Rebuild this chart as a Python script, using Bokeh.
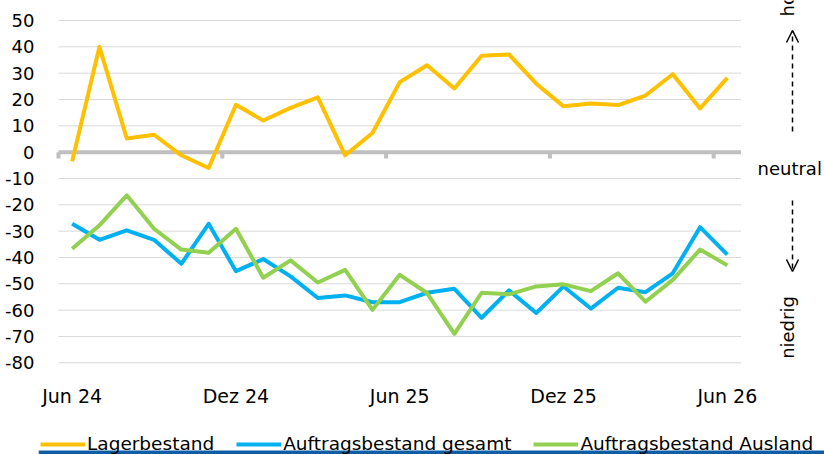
import math
from bokeh.plotting import figure
from bokeh.models import (FixedTicker, Range1d, Arrow, OpenHead, BoxAnnotation, Legend)
from bokeh.core.properties import value
from bokeh.embed import file_html
from bokeh.resources import INLINE

# ---- data ----
months = ["Jun 24", "Jul 24", "Aug 24", "Sep 24", "Okt 24", "Nov 24", "Dez 24",
          "Jan 25", "Feb 25", "Mär 25", "Apr 25", "Mai 25", "Jun 25", "Jul 25",
          "Aug 25", "Sep 25", "Okt 25", "Nov 25", "Dez 25", "Jan 26", "Feb 26",
          "Mär 26", "Apr 26", "Mai 26", "Jun 26"]
lagerbestand = [-3.5, 40, 5.2, 6.6, -1.2, -6, 18, 12, 16.8, 20.8, -1.2, 7.3, 26.6,
                33, 24.2, 36.6, 37.1, 26, 17.4, 18.5, 17.9, 21.5, 29.6, 16.6, 28.2]
auftrag_gesamt = [-27.2, -33.3, -29.7, -33.3, -42.4, -27.2, -45.2, -40.6, -47.2,
                  -55.4, -54.4, -57, -57, -53.4, -51.9, -62.9, -52.5, -61.1, -51,
                  -59.4, -51.5, -53.2, -46, -28.5, -38.9]
auftrag_ausland = [-36.7, -27.8, -16.4, -29.1, -37, -38.2, -29.1, -47.7, -41.1,
                   -49.5, -44.7, -59.9, -46.6, -53.5, -69, -53.4, -54, -51, -50.2,
                   -52.8, -46, -56.8, -48.5, -37, -43]
y_ticks = [-80, -70, -60, -50, -40, -30, -20, -10, 0, 10, 20, 30, 40, 50]
x_tick_labels = ["Jun 24", "Dez 24", "Jun 25", "Dez 25", "Jun 26"]
series_names = ["Lagerbestand", "Auftragsbestand gesamt", "Auftragsbestand Ausland"]
colors = ["#FFC000", "#00B0F0", "#92D050"]

FONT = "DejaVu Sans"
n = len(months)
xs = list(range(n))

# geometry
W, H = 824, 454
LEFT = 38          # frame starts here (y-axis panel to its left)
GRID_LEFT = 58     # where the category area begins
px_x = 27.3        # px per month
px_y = 2.633       # px per unit
x0 = -0.5 - (GRID_LEFT - LEFT) / px_x
x1 = x0 + (W - LEFT) / px_x
y1 = 50 + 20 / px_y
y0 = y1 - H / px_y


def dx(px):
    return x0 + (px - LEFT) / px_x


def dy(py):
    return y1 - py / px_y


p = figure(width=W, height=H, output_backend="svg", toolbar_location=None,
           x_range=Range1d(x0, x1), y_range=Range1d(y0, y1),
           min_border=0, min_border_left=LEFT, outline_line_color=None,
           background_fill_color="white", border_fill_color="white")
p.grid.visible = False

left_edge, right_edge = -0.5, n - 0.5

# gridlines
grid_vals = [v for v in y_ticks if v != 0]
p.segment(x0=[left_edge] * len(grid_vals), x1=[right_edge] * len(grid_vals),
          y0=grid_vals, y1=grid_vals, line_color="#D9D9D9", line_width=1)
# zero line with category tick marks
p.segment(x0=[left_edge], x1=[right_edge], y0=[0], y1=[0],
          line_color="#BFBFBF", line_width=4)
tick_pos = [i - 0.5 for i in range(0, n, 6)]
p.segment(x0=tick_pos, x1=tick_pos, y0=[0] * len(tick_pos),
          y1=[-2.4] * len(tick_pos), line_color="#BFBFBF", line_width=4)

# y axis in the left panel
yax = p.yaxis[0]
yax.ticker = FixedTicker(ticks=y_ticks)
yax.major_label_overrides = {v: str(v) for v in y_ticks}
yax.axis_line_color = None
yax.major_tick_line_color = None
yax.minor_tick_line_color = None
yax.major_tick_out = 0
yax.major_tick_in = 0
yax.major_label_standoff = 4
yax.major_label_text_font = FONT
yax.major_label_text_font_size = "18px"
yax.major_label_text_color = "#000000"

# x axis placed at -80 inside the frame
xax = p.xaxis[0]
xax.fixed_location = -80
tick_idx = [months.index(m) for m in x_tick_labels]
xax.ticker = FixedTicker(ticks=tick_idx)
xax.major_label_overrides = {i: m for i, m in zip(tick_idx, x_tick_labels)}
xax.axis_line_color = None
xax.major_tick_line_color = None
xax.minor_tick_line_color = None
xax.major_label_standoff = 16
xax.major_label_text_font = FONT
xax.major_label_text_font_size = "19px"
xax.major_label_text_color = "#000000"

# series
items = []
for name, vals, c in zip(series_names, [lagerbestand, auftrag_gesamt, auftrag_ausland], colors):
    r = p.line(xs, vals, line_color=c, line_width=4, line_join="round")
    items.append((name, [r]))

legend = Legend(items=items, orientation="horizontal", location=(40 - LEFT, 0),
                label_text_font=FONT, label_text_font_size="18.5px",
                label_text_color="#000000", glyph_width=45, glyph_height=20,
                label_standoff=2, spacing=22, padding=0, margin=0,
                border_line_color=None, background_fill_alpha=0,
                label_height=20)
p.add_layout(legend, "center")

# right-side annotations
p.text(x=[dx(757)], y=[dy(168)], text=["neutral"],
       text_font=value(FONT), text_font_size="18px", text_align="left",
       text_baseline="middle", text_color="#000000")
p.text(x=[dx(787)], y=[dy(327)], text=["niedrig"], angle=math.pi / 2,
       text_font=value(FONT), text_font_size="18px", text_align="center",
       text_baseline="middle", text_color="#000000")
p.text(x=[dx(787)], y=[dy(16)], text=["hoch"], angle=math.pi / 2,
       text_font=value(FONT), text_font_size="18px", text_align="left",
       text_baseline="middle", text_color="#000000")

p.add_layout(Arrow(x_start=dx(792), y_start=dy(131), x_end=dx(792), y_end=dy(30),
                   line_color="black", line_width=1.5, line_dash="5 4",
                   end=OpenHead(size=12, line_width=1.5, line_color="black")))
p.add_layout(Arrow(x_start=dx(792), y_start=dy(200), x_end=dx(792), y_end=dy(271),
                   line_color="black", line_width=1.5, line_dash="5 4",
                   end=OpenHead(size=12, line_width=1.5, line_color="black")))

# bottom blue strip
p.add_layout(BoxAnnotation(top=dy(450), fill_color="#0F5DA5", fill_alpha=1,
                           line_color=None, level="overlay"))

open("out.html", "w").write(file_html(p, INLINE))
